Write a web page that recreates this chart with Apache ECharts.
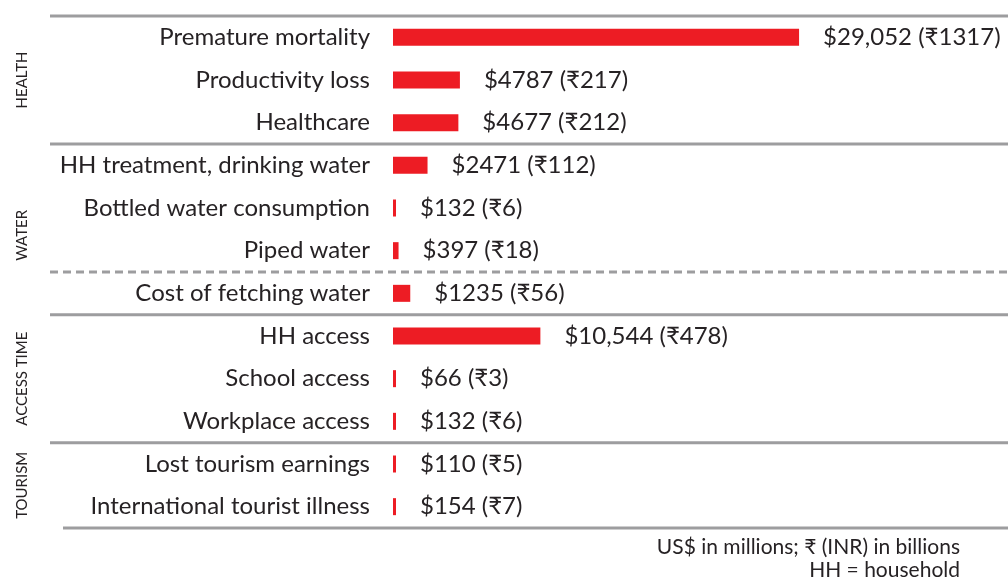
<!DOCTYPE html>
<html>
<head>
<meta charset="utf-8">
<style>
  html, body { margin: 0; padding: 0; background: #fff; }
  #CostosAgua { width: 1008px; height: 579px; }
</style>
<script src="https://cdn.jsdelivr.net/npm/echarts@6/dist/echarts.min.js"></script>
</head>
<body>
<div id="CostosAgua"></div>
<script>
// datos
var categorias = ['Premature mortality', 'Productivity loss', 'Healthcare',
  'HH treatment, drinking water', 'Bottled water consumption', 'Piped water',
  'Cost of fetching water', 'HH access', 'School access', 'Workplace access',
  'Lost tourism earnings', 'International tourist illness'];
var valoresUSD = [29052, 4787, 4677, 2471, 132, 397, 1235, 10544, 66, 132, 110, 154];
var valoresINR = [1317, 217, 212, 112, 6, 18, 56, 478, 3, 6, 5, 7];
var grupos = ['HEALTH', 'WATER', 'ACCESS TIME', 'TOURISM'];
var gruposDesde = [0, 3, 7, 10];
var gruposHasta = [2, 6, 9, 11];
var nota = ['US$ in millions; ₹ (INR) in billions', 'HH = household'];

var fuente = 'Lato, "Noto Sans", sans-serif';

var dom = document.getElementById("CostosAgua");
var myChart = echarts.init(dom);
var option = null;
option = {
  animation: false,
  grid: { left: 393, right: 0, top: 16, bottom: 51 },
  xAxis: {
    type: 'value',
    min: 0,
    max: 44000,
    show: false
  },
  yAxis: {
    type: 'category',
    inverse: true,
    data: categorias,
    axisLine: { show: false },
    axisTick: { show: false },
    axisLabel: {
      margin: 23,
      fontSize: 24,
      fontFamily: fuente,
      color: '#262224'
    }
  },
  series: [
    {
      type: 'bar',
      data: valoresUSD,
      barWidth: 17,
      barMinHeight: 3,
      itemStyle: { color: '#ed1c24' },
      label: {
        show: true,
        position: 'right',
        distance: 24,
        fontSize: 24,
        fontFamily: fuente,
        color: '#262224',
        formatter: function (p) {
          var v = valoresUSD[p.dataIndex];
          var txt = v >= 10000 ? v.toLocaleString('en-US') : String(v);
          return '$' + txt + ' (₹' + valoresINR[p.dataIndex] + ')';
        }
      }
    }
  ]
};
if (option && typeof option === "object") {
  myChart.setOption(option, true);
}

// lineas separadoras y etiquetas de grupo
function centro(i) {
  return myChart.convertToPixel({ yAxisIndex: 0 }, categorias[i]);
}
var paso = centro(1) - centro(0);
function borde(i) { // borde inferior de la fila i
  return centro(i) + paso / 2;
}
var gris = '#9d9d9f';
var graficos = [];
function linea(y, x0, tipo) {
  graficos.push({
    type: 'line',
    shape: { x1: x0, y1: y, x2: 1008, y2: y },
    style: { stroke: gris, lineWidth: 3, lineDash: tipo === 'dash' ? [8, 5] : null }
  });
}
linea(centro(0) - paso / 2, 50);
linea(borde(2), 50);
linea(borde(5), 50, 'dash');
linea(borde(6), 50);
linea(borde(9), 50);
linea(borde(11), 63);

for (var g = 0; g < grupos.length; g++) {
  var yc = (centro(gruposDesde[g]) + centro(gruposHasta[g])) / 2;
  if (grupos[g] === 'WATER') yc += 6;
  graficos.push({
    type: 'text',
    x: 22,
    y: yc,
    rotation: Math.PI / 2,
    style: {
      text: grupos[g],
      fontSize: 15,
      fontFamily: fuente,
      fill: '#262224',
      align: 'center',
      verticalAlign: 'middle'
    }
  });
}

graficos.push({
  type: 'text',
  x: 960,
  y: 536,
  style: {
    text: nota.join('\n'),
    fontSize: 21,
    lineHeight: 23,
    fontFamily: fuente,
    fill: '#262224',
    align: 'right',
    verticalAlign: 'top'
  }
});
myChart.setOption({ graphic: graficos });
</script>
</body>
</html>
